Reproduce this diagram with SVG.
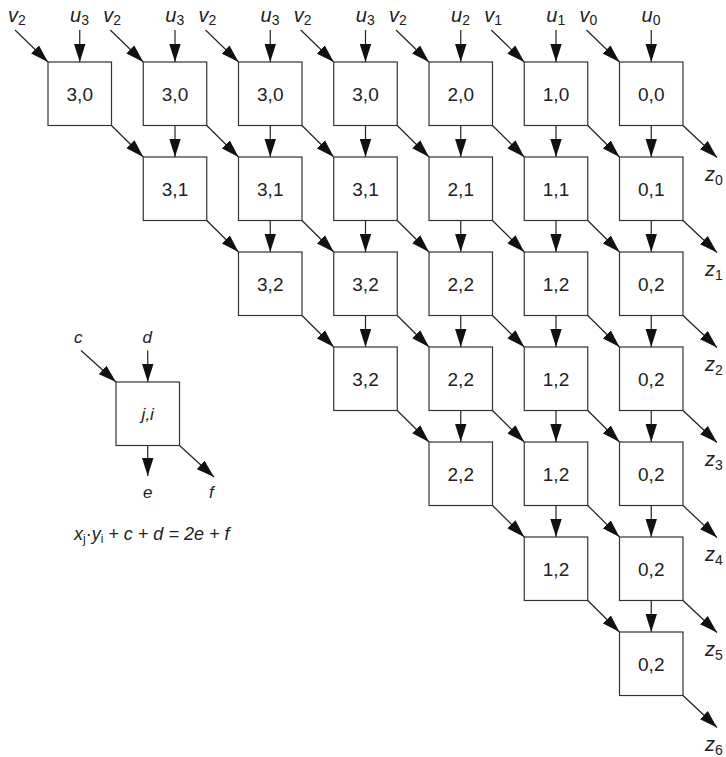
<svg xmlns="http://www.w3.org/2000/svg" width="726" height="757" viewBox="0 0 726 757">
<style>
.bg{fill:#fff}
.box rect{fill:#fff;stroke:#333;stroke-width:1.2}
.box text{font-family:"Liberation Sans",Arial,sans-serif;font-size:19px;fill:#222;text-anchor:middle}
.cn line{stroke:#222;stroke-width:1.2;marker-end:url(#ah)}
.lbl{font-family:"Liberation Sans",Arial,sans-serif;font-style:italic;font-size:20px;fill:#222}
.sub{font-size:14px;font-style:normal}
.leg{font-size:17px}
.f17{font-size:18px}
.f17 .sub{font-size:12px}
</style>
<defs>
<marker id="ah" markerWidth="19" markerHeight="12" refX="18" refY="6" orient="auto" markerUnits="userSpaceOnUse">
<path d="M0,0.3 L18,6 L0,11.7 z" fill="#111"/>
</marker>
</defs>
<rect class="bg" x="0" y="0" width="726" height="757"/>

<g id="connectors" class="cn">
<line x1="79.75" y1="30" x2="79.75" y2="62"/><line x1="15" y1="30" x2="48" y2="62"/>
<line x1="175" y1="30" x2="175" y2="62"/><line x1="110.25" y1="30" x2="143.25" y2="62"/>
<line x1="270.25" y1="30" x2="270.25" y2="62"/><line x1="205.5" y1="30" x2="238.5" y2="62"/>
<line x1="365.5" y1="30" x2="365.5" y2="62"/><line x1="300.75" y1="30" x2="333.75" y2="62"/>
<line x1="460.75" y1="30" x2="460.75" y2="62"/><line x1="396" y1="30" x2="429" y2="62"/>
<line x1="556" y1="30" x2="556" y2="62"/><line x1="491.25" y1="30" x2="524.25" y2="62"/>
<line x1="651.25" y1="30" x2="651.25" y2="62"/><line x1="586.5" y1="30" x2="619.5" y2="62"/>
<line x1="175" y1="125.5" x2="175" y2="157"/>
<line x1="270.25" y1="125.5" x2="270.25" y2="157"/><line x1="270.25" y1="220.5" x2="270.25" y2="252"/>
<line x1="365.5" y1="125.5" x2="365.5" y2="157"/><line x1="365.5" y1="220.5" x2="365.5" y2="252"/><line x1="365.5" y1="315.5" x2="365.5" y2="347"/>
<line x1="460.75" y1="125.5" x2="460.75" y2="157"/><line x1="460.75" y1="220.5" x2="460.75" y2="252"/><line x1="460.75" y1="315.5" x2="460.75" y2="347"/><line x1="460.75" y1="410.5" x2="460.75" y2="442"/>
<line x1="556" y1="125.5" x2="556" y2="157"/><line x1="556" y1="220.5" x2="556" y2="252"/><line x1="556" y1="315.5" x2="556" y2="347"/><line x1="556" y1="410.5" x2="556" y2="442"/><line x1="556" y1="505.5" x2="556" y2="537"/>
<line x1="651.25" y1="125.5" x2="651.25" y2="157"/><line x1="651.25" y1="220.5" x2="651.25" y2="252"/><line x1="651.25" y1="315.5" x2="651.25" y2="347"/><line x1="651.25" y1="410.5" x2="651.25" y2="442"/><line x1="651.25" y1="505.5" x2="651.25" y2="537"/><line x1="651.25" y1="600.5" x2="651.25" y2="632"/>
<line x1="111.5" y1="125.5" x2="143.25" y2="157"/>
<line x1="206.75" y1="125.5" x2="238.5" y2="157"/><line x1="206.75" y1="220.5" x2="238.5" y2="252"/>
<line x1="302" y1="125.5" x2="333.75" y2="157"/><line x1="302" y1="220.5" x2="333.75" y2="252"/><line x1="302" y1="315.5" x2="333.75" y2="347"/>
<line x1="397.25" y1="125.5" x2="429" y2="157"/><line x1="397.25" y1="220.5" x2="429" y2="252"/><line x1="397.25" y1="315.5" x2="429" y2="347"/><line x1="397.25" y1="410.5" x2="429" y2="442"/>
<line x1="492.5" y1="125.5" x2="524.25" y2="157"/><line x1="492.5" y1="220.5" x2="524.25" y2="252"/><line x1="492.5" y1="315.5" x2="524.25" y2="347"/><line x1="492.5" y1="410.5" x2="524.25" y2="442"/><line x1="492.5" y1="505.5" x2="524.25" y2="537"/>
<line x1="587.75" y1="125.5" x2="619.5" y2="157"/><line x1="587.75" y1="220.5" x2="619.5" y2="252"/><line x1="587.75" y1="315.5" x2="619.5" y2="347"/><line x1="587.75" y1="410.5" x2="619.5" y2="442"/><line x1="587.75" y1="505.5" x2="619.5" y2="537"/><line x1="587.75" y1="600.5" x2="619.5" y2="632"/>
<line x1="683" y1="125.5" x2="717" y2="157.5"/>
<line x1="683" y1="220.5" x2="717" y2="252.5"/>
<line x1="683" y1="315.5" x2="717" y2="347.5"/>
<line x1="683" y1="410.5" x2="717" y2="442.5"/>
<line x1="683" y1="505.5" x2="717" y2="537.5"/>
<line x1="683" y1="600.5" x2="717" y2="632.5"/>
<line x1="683" y1="695.5" x2="717" y2="727.5"/>
<line x1="81" y1="350.5" x2="116" y2="382"/>
<line x1="147.75" y1="350.5" x2="147.75" y2="382"/>
<line x1="147.75" y1="445.5" x2="147.75" y2="476"/>
<line x1="179.5" y1="445.5" x2="214" y2="477"/>
</g>

<g id="inputs" class="lbl">
<text x="8" y="22">v<tspan class="sub" dy="3">2</tspan></text>
<text x="70" y="22">u<tspan class="sub" dy="3">3</tspan></text>
<text x="103.25" y="22">v<tspan class="sub" dy="3">2</tspan></text>
<text x="165.25" y="22">u<tspan class="sub" dy="3">3</tspan></text>
<text x="198.5" y="22">v<tspan class="sub" dy="3">2</tspan></text>
<text x="260.5" y="22">u<tspan class="sub" dy="3">3</tspan></text>
<text x="293.75" y="22">v<tspan class="sub" dy="3">2</tspan></text>
<text x="355.75" y="22">u<tspan class="sub" dy="3">3</tspan></text>
<text x="389" y="22">v<tspan class="sub" dy="3">2</tspan></text>
<text x="451" y="22">u<tspan class="sub" dy="3">2</tspan></text>
<text x="484.25" y="22">v<tspan class="sub" dy="3">1</tspan></text>
<text x="546.25" y="22">u<tspan class="sub" dy="3">1</tspan></text>
<text x="579.5" y="22">v<tspan class="sub" dy="3">0</tspan></text>
<text x="641.5" y="22">u<tspan class="sub" dy="3">0</tspan></text>
</g>

<g id="outputs" class="lbl">
<text x="705" y="181">z<tspan class="sub" dy="4">0</tspan></text>
<text x="705" y="276">z<tspan class="sub" dy="4">1</tspan></text>
<text x="705" y="371">z<tspan class="sub" dy="4">2</tspan></text>
<text x="705" y="466">z<tspan class="sub" dy="4">3</tspan></text>
<text x="705" y="561">z<tspan class="sub" dy="4">4</tspan></text>
<text x="705" y="656">z<tspan class="sub" dy="4">5</tspan></text>
<text x="705" y="751">z<tspan class="sub" dy="4">6</tspan></text>
</g>

<g id="n-0-0" class="box"><rect x="48" y="62" width="63.5" height="63.5"/><text x="79.75" y="100.5">3,0</text></g>
<g id="n-1-0" class="box"><rect x="143.25" y="62" width="63.5" height="63.5"/><text x="175" y="100.5">3,0</text></g>
<g id="n-2-0" class="box"><rect x="238.5" y="62" width="63.5" height="63.5"/><text x="270.25" y="100.5">3,0</text></g>
<g id="n-3-0" class="box"><rect x="333.75" y="62" width="63.5" height="63.5"/><text x="365.5" y="100.5">3,0</text></g>
<g id="n-4-0" class="box"><rect x="429" y="62" width="63.5" height="63.5"/><text x="460.75" y="100.5">2,0</text></g>
<g id="n-5-0" class="box"><rect x="524.25" y="62" width="63.5" height="63.5"/><text x="556" y="100.5">1,0</text></g>
<g id="n-6-0" class="box"><rect x="619.5" y="62" width="63.5" height="63.5"/><text x="651.25" y="100.5">0,0</text></g>

<g id="n-1-1" class="box"><rect x="143.25" y="157" width="63.5" height="63.5"/><text x="175" y="195.5">3,1</text></g>
<g id="n-2-1" class="box"><rect x="238.5" y="157" width="63.5" height="63.5"/><text x="270.25" y="195.5">3,1</text></g>
<g id="n-3-1" class="box"><rect x="333.75" y="157" width="63.5" height="63.5"/><text x="365.5" y="195.5">3,1</text></g>
<g id="n-4-1" class="box"><rect x="429" y="157" width="63.5" height="63.5"/><text x="460.75" y="195.5">2,1</text></g>
<g id="n-5-1" class="box"><rect x="524.25" y="157" width="63.5" height="63.5"/><text x="556" y="195.5">1,1</text></g>
<g id="n-6-1" class="box"><rect x="619.5" y="157" width="63.5" height="63.5"/><text x="651.25" y="195.5">0,1</text></g>

<g id="n-2-2" class="box"><rect x="238.5" y="252" width="63.5" height="63.5"/><text x="270.25" y="290.5">3,2</text></g>
<g id="n-3-2" class="box"><rect x="333.75" y="252" width="63.5" height="63.5"/><text x="365.5" y="290.5">3,2</text></g>
<g id="n-4-2" class="box"><rect x="429" y="252" width="63.5" height="63.5"/><text x="460.75" y="290.5">2,2</text></g>
<g id="n-5-2" class="box"><rect x="524.25" y="252" width="63.5" height="63.5"/><text x="556" y="290.5">1,2</text></g>
<g id="n-6-2" class="box"><rect x="619.5" y="252" width="63.5" height="63.5"/><text x="651.25" y="290.5">0,2</text></g>

<g id="n-3-3" class="box"><rect x="333.75" y="347" width="63.5" height="63.5"/><text x="365.5" y="385.5">3,2</text></g>
<g id="n-4-3" class="box"><rect x="429" y="347" width="63.5" height="63.5"/><text x="460.75" y="385.5">2,2</text></g>
<g id="n-5-3" class="box"><rect x="524.25" y="347" width="63.5" height="63.5"/><text x="556" y="385.5">1,2</text></g>
<g id="n-6-3" class="box"><rect x="619.5" y="347" width="63.5" height="63.5"/><text x="651.25" y="385.5">0,2</text></g>

<g id="n-4-4" class="box"><rect x="429" y="442" width="63.5" height="63.5"/><text x="460.75" y="480.5">2,2</text></g>
<g id="n-5-4" class="box"><rect x="524.25" y="442" width="63.5" height="63.5"/><text x="556" y="480.5">1,2</text></g>
<g id="n-6-4" class="box"><rect x="619.5" y="442" width="63.5" height="63.5"/><text x="651.25" y="480.5">0,2</text></g>

<g id="n-5-5" class="box"><rect x="524.25" y="537" width="63.5" height="63.5"/><text x="556" y="575.5">1,2</text></g>
<g id="n-6-5" class="box"><rect x="619.5" y="537" width="63.5" height="63.5"/><text x="651.25" y="575.5">0,2</text></g>

<g id="n-6-6" class="box"><rect x="619.5" y="632" width="63.5" height="63.5"/><text x="651.25" y="670.5">0,2</text></g>

<g id="legend">
<g id="legend-cell" class="box"><rect x="116" y="382" width="63.5" height="63.5"/><text x="147.75" y="420" style="font-style:italic;font-size:17px">j,i</text></g>
<text class="lbl leg" x="74" y="343">c</text>
<text class="lbl leg" x="142.5" y="343">d</text>
<text class="lbl leg" x="143" y="498">e</text>
<text class="lbl leg" x="209" y="498">f</text>
<text class="lbl f17" x="74" y="540">x<tspan class="sub" dy="3">j</tspan><tspan dy="-3">·y</tspan><tspan class="sub" dy="3">i</tspan><tspan dy="-3"> + c + d = 2e + f</tspan></text>
</g>
</svg>
